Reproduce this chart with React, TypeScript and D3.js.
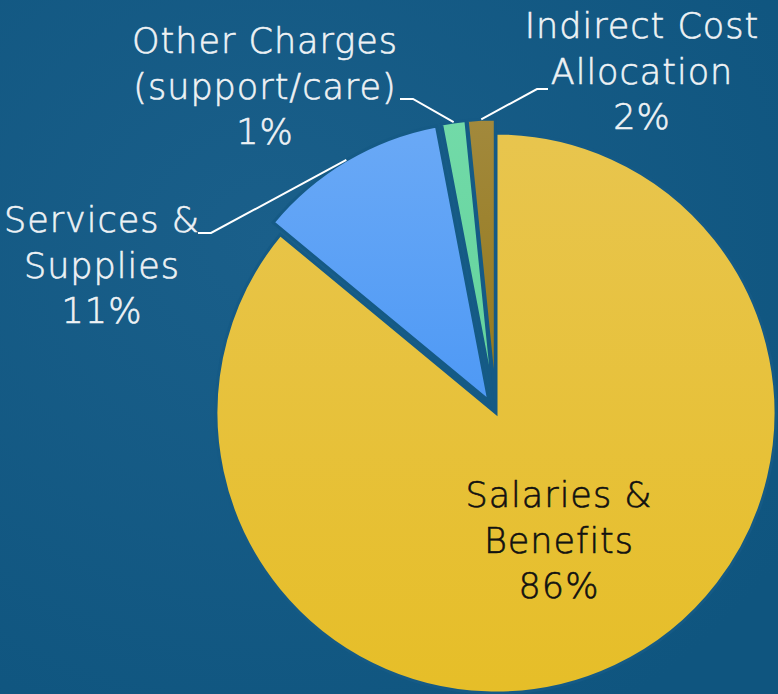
import React from "react";
import * as d3 from "d3";

const categories = ["Salaries & Benefits", "Services & Supplies", "Other Charges (support/care)", "Indirect Cost Allocation"];
const values = [86.0, 11.0, 1.4, 1.6];
const labelLines = [
  ["Salaries &", "Benefits"],
  ["Services &", "Supplies"],
  ["Other Charges", "(support/care)"],
  ["Indirect Cost", "Allocation"],
];
const colorsTop = ["#E8C54E", "#6AA9F6", "#72DAA8", "#A2893C"];
const colorsBottom = ["#E6BE28", "#4E99F5", "#62D29C", "#94781A"];

const W = 778;
const H = 694;
const cx = 496;
const cy = 413;
const R = 280;
const explode = [0, 14, 14, 14];

// label layout: [x, first baseline, color]
const labelPos: [number, number, string][] = [
  [559, 507, "#111111"],
  [102, 232, "#EEF2F5"],
  [265, 53, "#EEF2F5"],
  [642, 38, "#EEF2F5"],
];
const LH = 45.5;
// leader elbows: [elbow x, elbow y, end x] (label side)
const leaders: ([number, number, number] | null)[] = [
  null,
  [211, 233, 198],
  [413, 99, 400],
  [537, 89, 548],
];

export default function App() {
  const total = d3.sum(values);
  const pie = d3.pie<number>().sort(null).value((d) => d)(values);
  const arc = d3.arc<d3.PieArcDatum<number>>().innerRadius(0).outerRadius(R);

  return (
    <svg width={W} height={H} style={{ position: "absolute", left: 0, top: 0 }}>
      <defs>
        <radialGradient id="bg" cx="35%" cy="35%" r="80%">
          <stop offset="0%" stopColor="#1A5F8A" />
          <stop offset="100%" stopColor="#0F557F" />
        </radialGradient>
        {values.map((_, i) => (
          <linearGradient key={i} id={`g${i}`} x1="0" y1="0" x2="0" y2="1">
            <stop offset="0%" stopColor={colorsTop[i]} />
            <stop offset="100%" stopColor={colorsBottom[i]} />
          </linearGradient>
        ))}
      </defs>
      <rect width={W} height={H} fill="url(#bg)" />
      {pie.map((p, i) => {
        const mid = (p.startAngle + p.endAngle) / 2;
        const dx = Math.sin(mid) * explode[i];
        const dy = -Math.cos(mid) * explode[i];
        return (
          <path
            key={i}
            d={arc(p) || ""}
            transform={`translate(${cx + dx},${cy + dy})`}
            fill={`url(#g${i})`}
            stroke="#155A85"
            strokeWidth={3}
            strokeLinejoin="miter"
          />
        );
      })}
      {pie.map((p, i) => {
        const l = leaders[i];
        if (!l) return null;
        const mid = (p.startAngle + p.endAngle) / 2;
        const rr = R + explode[i];
        const sx = cx + Math.sin(mid) * rr;
        const sy = cy - Math.cos(mid) * rr;
        return (
          <polyline
            key={`l${i}`}
            points={`${sx},${sy} ${l[0]},${l[1]} ${l[2]},${l[1]}`}
            fill="none"
            stroke="#FFFFFF"
            strokeWidth={2}
          />
        );
      })}
      {pie.map((p, i) => {
        const [x, y, c] = labelPos[i];
        const pct = Math.round((values[i] / total) * 100) + "%";
        const lines = [...labelLines[i], pct];
        return (
          <text
            key={`t${i}`}
            x={x}
            y={y}
            fill={c}
            stroke={c}
            strokeWidth={0.6}
            textAnchor="middle"
            fontFamily="'DejaVu Sans', sans-serif"
            fontWeight={300}
            fontSize={35}
            letterSpacing={1}
          >
            {lines.map((s, j) => (
              <tspan key={j} x={x} y={y + j * LH}>
                {s}
              </tspan>
            ))}
          </text>
        );
      })}
    </svg>
  );
}
